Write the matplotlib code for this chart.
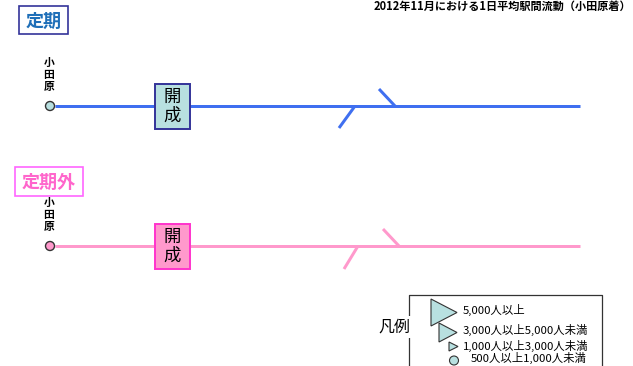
import matplotlib
matplotlib.use("Agg")
import matplotlib.pyplot as plt
from matplotlib.patches import Polygon, Circle, Rectangle

plt.rcParams['font.family'] = ['Noto Sans CJK JP', 'DejaVu Sans']

# ---- content ----
title = "2012年11月における1日平均駅間流動（小田原着）"
categories = ["定期", "定期外"]
origin_station = "小田原"
stations = ["開成"]
legend_title = "凡例"
legend_labels = ["5,000人以上", "3,000人以上5,000人未満", "1,000人以上3,000人未満", "500人以上1,000人未満"]

# ---- style ----
line_colors = ["#3f6ff0", "#ff99cc"]
box_face = ["#b8e0e0", "#ff99cc"]
box_edge = ["#333399", "#ff33cc"]
cat_text_color = ["#1f6fb8", "#ff66cc"]
cat_edge = ["#333399", "#ff66ff"]
circle_face = ["#b8e0e0", "#ff99cc"]

W, H = 633, 366
fig = plt.figure(figsize=(W / 100, H / 100), dpi=100)
ax = fig.add_axes([0, 0, 1, 1])
ax.set_xlim(0, W)
ax.set_ylim(H, 0)
ax.axis('off')

px = 72 / 100  # points per pixel

ax.text(631, 6, title, ha='right', va='center', fontsize=8.0, fontweight='bold', color='black')

panel_y = [106, 246]
cat_boxes = [(19, 6, 49, 28), (15, 167, 68, 29)]
branch_down = [((355, 106), (339, 128)), ((358, 246), (344, 269))]
branch_up = [((395, 106), (379, 89)), ((399, 246), (383, 229))]

for i, cat in enumerate(categories):
    y = panel_y[i]
    bx, by, bw, bh = cat_boxes[i]
    ax.add_patch(Rectangle((bx, by), bw, bh, facecolor='white', edgecolor=cat_edge[i], lw=1.2, zorder=2))
    ax.text(bx + bw / 2, by + bh / 2 + 1, cat, ha='center', va='center', fontsize=13,
            fontweight='bold', color=cat_text_color[i], zorder=3)
    # main line
    ax.plot([55, 580], [y, y], color=line_colors[i], lw=3 * px, solid_capstyle='butt', zorder=2)
    for (p0, p1) in (branch_down[i], branch_up[i]):
        ax.plot([p0[0], p1[0]], [p0[1], p1[1]], color=line_colors[i], lw=3 * px,
                solid_capstyle='butt', zorder=2)
    # origin station
    ax.add_patch(Circle((50, y), 4.5, facecolor=circle_face[i], edgecolor='#333333', lw=1.0, zorder=4))
    ax.text(49, y - 31, "\n".join(origin_station), ha='center', va='center', fontsize=7.8,
            fontweight='bold', linespacing=1.2, color='black', zorder=3)
    # station box
    for s in stations:
        ax.add_patch(Rectangle((155, y - 22), 35, 45, facecolor=box_face[i], edgecolor=box_edge[i],
                               lw=1.4, zorder=5))
        ax.text(172.5, y + 0.5, "\n".join(s), ha='center', va='center', fontsize=12.5,
                linespacing=1.05, color='black', zorder=6)

# ---- legend ----
ax.plot([409, 409, 602, 602], [H + 5, 295, 295, H + 5], color='#333333', lw=0.9, zorder=2)
ax.text(394, 327, legend_title, ha='center', va='center', fontsize=11.5, color='black', zorder=4,
        bbox=dict(facecolor='white', edgecolor='none', pad=1.5))
tri_specs = [(431, 457, 299, 326), (439, 457, 323, 342), (449, 458, 342, 351)]
for (x0, x1, y0, y1) in tri_specs:
    ax.add_patch(Polygon([(x0, y0), (x1, (y0 + y1) / 2), (x0, y1)], closed=True,
                         facecolor='#b8e0e0', edgecolor='#333333', lw=0.8, zorder=3))
ax.add_patch(Circle((454, 360.5), 4.5, facecolor='#b8e0e0', edgecolor='#333333', lw=0.8, zorder=3))
leg_pos = [(463, 310), (463, 330), (463, 346), (471, 358)]
for (lx, ly), lab in zip(leg_pos, legend_labels):
    ax.text(lx, ly, lab, ha='left', va='center', fontsize=8.2, color='black', zorder=4)

fig.savefig("out.png", dpi=100)
